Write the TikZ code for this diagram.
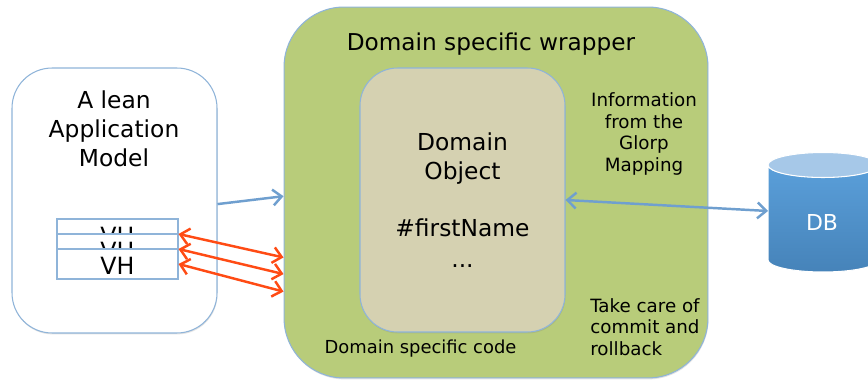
\documentclass[tikz,border=0pt]{standalone}
\usepackage{fontspec}
\setmainfont{DejaVu Sans}
\usetikzlibrary{arrows.meta, shadows}
\definecolor{edgeblue}{HTML}{8FB4D9}
\definecolor{arrowblue}{HTML}{6F9FCF}
\definecolor{arrowred}{HTML}{FF4B14}
\definecolor{wrapgreen}{HTML}{B8CC7A}
\definecolor{objsand}{HTML}{D5D1B1}
\definecolor{dbtop}{HTML}{A6C8E8}
\definecolor{dbupper}{HTML}{5A9FDA}
\definecolor{dblower}{HTML}{4683B9}
\tikzset{
    >={Straight Barb[length=5pt, width=9pt]},
    softshadow/.style={drop shadow={shadow xshift=0.3pt, shadow yshift=-0.8pt, opacity=0.22}},
    roundbox/.style={draw=edgeblue, line width=0.6pt, inner sep=0pt, softshadow},
    vhbox/.style={draw=edgeblue, fill=white, line width=0.6pt, inner sep=0pt,
        minimum width=2.42cm, minimum height=0.6cm, text height=12pt, text depth=0pt,
        font=\fontsize{13.5}{16}\selectfont, softshadow},
    bigtext/.style={align=center, font=\fontsize{13.3}{16.4}\selectfont},
    smalltext/.style={font=\fontsize{10.4}{12.4}\selectfont},
    bluelink/.style={draw=arrowblue, line width=1.4pt},
    redlink/.style={draw=arrowred, line width=1.4pt, <->},
}
\begin{document}
\begin{tikzpicture}[x=0.02cm, y=-0.02cm]
    \clip (0, 0) rectangle (868, 381);
    \fill[white] (0, 0) rectangle (868, 381);
    \node[roundbox, fill=white, rounded corners=0.8cm, minimum width=4.1cm, minimum height=5.3cm]
        (app) at (114.5, 200.5) {};
    \node[bigtext] (apptitle) at (114, 129) {A lean\\Application\\Model};
    \node[vhbox] (vhtop) at (117.5, 234) {VH};
    \node[vhbox] (vhmid) at (117.5, 249) {VH};
    \node[vhbox] (vhlow) at (117.5, 264) {VH};
    \node[roundbox, fill=wrapgreen, rounded corners=1.2cm, minimum width=8.48cm, minimum height=7.42cm]
        (wrapper) at (496, 192.5) {};
    \node[roundbox, fill=objsand, rounded corners=0.75cm, minimum width=4.1cm, minimum height=5.28cm,
        bigtext] (object) at (462.5, 200) {Domain\\Object\\[\baselineskip]\#firstName\\[1pt]...};
    \node[font=\fontsize{13.2}{15}\selectfont] (wraptitle) at (491, 44) {Domain specific wrapper};
    \node[smalltext, align=center] (info) at (644, 134) {Information\\from the\\Glorp\\Mapping};
    \node[smalltext, align=left] (care) at (645, 327) {Take care of\\commit and\\rollback};
    \node[font=\fontsize{10.2}{12.4}\selectfont] (code) at (420.5, 349) {Domain specific code};
    \shade[top color=dbupper, bottom color=dblower, draw=white, line width=0.6pt]
        (768, 165) -- (768, 260)
        arc[x radius=55, y radius=12, start angle=180, end angle=0]
        -- (878, 165) arc[x radius=55, y radius=12, start angle=0, end angle=180];
    \fill[dbtop, draw=white, line width=0.6pt]
        (823, 165) ellipse[x radius=55, y radius=12.5];
    \node[text=white, font=\fontsize{12.5}{15}\selectfont] (db) at (822, 222) {DB};
    \coordinate (dbin) at (768, 211);
    \draw[bluelink, ->] (app.-2) -- (wrapper.181.2);
    \draw[bluelink, <->] (object.-0.5) -- (dbin);
    \draw[redlink] (vhtop.east) -- (wrapper.197.9);
    \draw[redlink] (vhmid.east) -- (wrapper.201);
    \draw[redlink] (vhlow.east) -- (wrapper.205.6);
\end{tikzpicture}
\end{document}
